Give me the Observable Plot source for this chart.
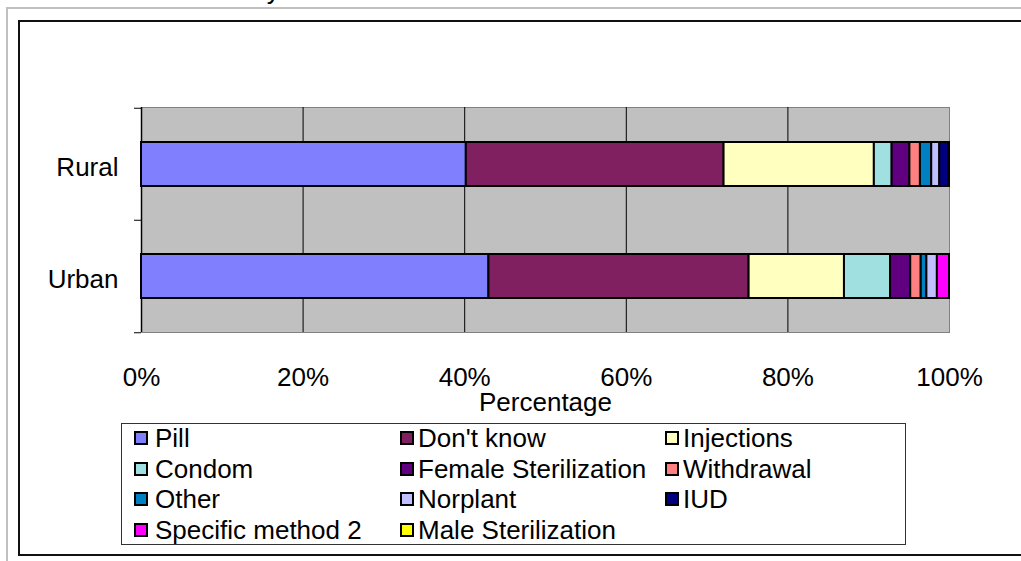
<!DOCTYPE html>
<html><head><meta charset="utf-8">
<script src="https://cdn.jsdelivr.net/npm/d3@7"></script>
<script src="https://cdn.jsdelivr.net/npm/@observablehq/plot@0.6"></script>
<style>
html,body{margin:0;padding:0;background:#fff;overflow:hidden;}
#wrap{position:relative;width:1021px;height:561px;overflow:hidden;font-family:"Liberation Sans",Arial,sans-serif;color:#000;}
#chart{position:absolute;left:0;top:0;z-index:1;}
#title{position:absolute;left:50px;top:-23px;font-size:26px;line-height:26px;white-space:nowrap;}
.frame-gray{position:absolute;left:6px;top:7px;width:1040px;height:600px;border-left:2px solid #c0c0c0;border-top:2px solid #c0c0c0;}
.frame-black{position:absolute;left:18px;top:20px;width:1040px;height:532px;border:2px solid #111;}
#legend{position:absolute;left:121px;top:423px;width:785px;height:122px;border:1px solid #333;box-sizing:border-box;background:#fff;z-index:2;}
.item{position:absolute;height:30.5px;line-height:30.5px;font-size:26px;white-space:nowrap;}
.sw{position:absolute;top:8px;width:10px;height:10px;border:2px solid #000;}
.lbl{position:absolute;top:0;}
</style>
</head><body>
<div id="wrap">
  <div class="frame-gray"></div>
  <div class="frame-black"></div>
  <div id="title">Intended Method by Place of Residence</div>
  <div id="chart"></div>
  <div id="legend"></div>
</div>
<script>
const residences = ["Rural", "Urban"];
const methods = ["Pill", "Don't know", "Injections", "Condom", "Female Sterilization", "Withdrawal", "Other", "Norplant", "IUD", "Specific method 2", "Male Sterilization"];
const colors = ["#8080FF", "#802060", "#FFFFC0", "#A0E0E0", "#600080", "#FF8080", "#0080C0", "#C0C0FF", "#000080", "#FF00FF", "#FFFF00"];
const ruralValues = [40.2, 31.9, 18.6, 2.2, 2.2, 1.3, 1.4, 1.0, 1.1, 0.1, 0];
const urbanValues = [43.0, 32.2, 11.8, 5.7, 2.5, 1.3, 0.7, 1.3, 0, 1.5, 0];
const xTicks = [0, 20, 40, 60, 80, 100];
const gridTicks = [20, 40, 60, 80];
const xLabel = "Percentage";

const seriesByResidence = {Rural: ruralValues, Urban: urbanValues};
const data = [];
residences.forEach(r => {
  seriesByResidence[r].forEach((v, i) => {
    if (v > 0) data.push({residence: r, method: methods[i], value: v});
  });
});

const plot = Plot.plot({
  width: 1021, height: 561,
  marginLeft: 141, marginRight: 72, marginTop: 107, marginBottom: 229,
  style: {background: "transparent", fontFamily: "'Liberation Sans', Arial, sans-serif", fontSize: "26px", color: "#000"},
  x: {domain: [0, 100]},
  y: {type: "band", domain: residences, padding: 0},
  color: {domain: methods, range: colors},
  marks: [
    Plot.frame({fill: "#c0c0c0", stroke: "#808080"}),
    Plot.ruleX(gridTicks, {stroke: "#000", strokeWidth: 1}),
    Plot.ruleX([0], {stroke: "#000", strokeWidth: 1.5}),
    Plot.ruleY(residences, {y: d => d, dy: -56.25, insetLeft: -7, insetRight: 808, stroke: "#000"}),
    Plot.ruleY([residences[residences.length - 1]], {y: d => d, dy: 56.25, insetLeft: -7, insetRight: 808, stroke: "#000"}),
    Plot.barX(data, Plot.stackX({x: "value", y: "residence", fill: "method", order: methods, stroke: "#000", strokeWidth: 2, insetTop: 34, insetBottom: 34})),
    Plot.axisX({ticks: xTicks, tickFormat: d => d + "%", tickSize: 0, tickPadding: 35, fontSize: 26, label: null}),
    Plot.axisY({tickSize: 0, tickPadding: 23, fontSize: 26, label: null, dy: 3}),
    Plot.text([xLabel], {frameAnchor: "bottom", dy: 78, text: d => d, fontSize: 26})
  ]
});
document.getElementById("chart").appendChild(plot);

// Legend
const legend = document.getElementById("legend");
const swatchX = [134, 400, 665];
const textX = [155, 418, 683];
methods.forEach((m, i) => {
  const col = i % 3, row = Math.floor(i / 3);
  const item = document.createElement("div");
  item.className = "item";
  item.style.left = "0px";
  item.style.top = (row * 30.5 - 1) + "px";
  const sw = document.createElement("span");
  sw.className = "sw";
  sw.style.left = (swatchX[col] - 122) + "px";
  sw.style.background = colors[i];
  const lb = document.createElement("span");
  lb.className = "lbl";
  lb.style.left = (textX[col] - 122) + "px";
  lb.textContent = m;
  item.appendChild(sw);
  item.appendChild(lb);
  legend.appendChild(item);
});
</script>
</body></html>
